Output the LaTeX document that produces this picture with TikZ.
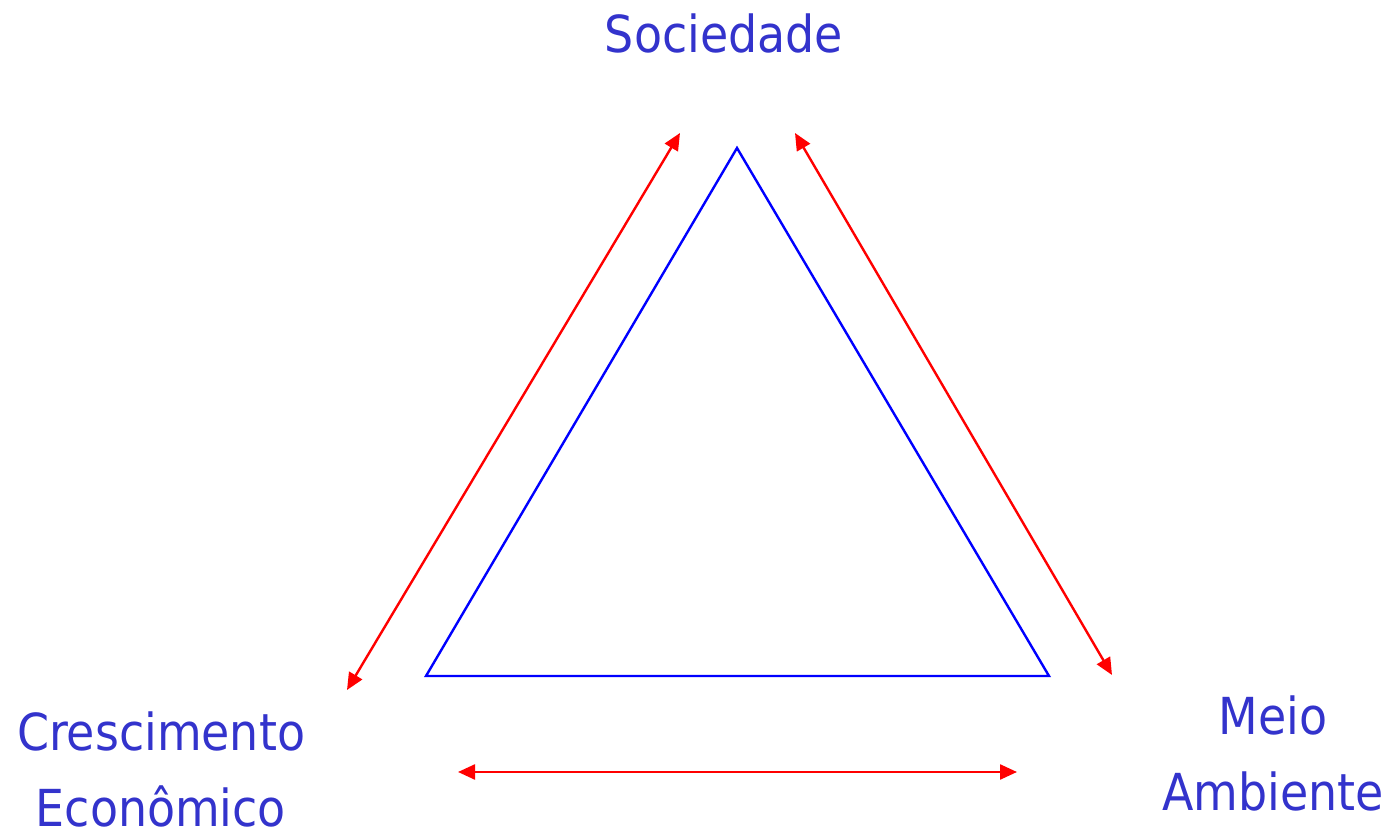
\documentclass[tikz,border=0pt]{standalone}
\usepackage{fontspec}
\setmainfont{DejaVu Sans Condensed}
\usetikzlibrary{arrows.meta}
\definecolor{labelblue}{HTML}{3333CC}
\begin{document}
\begin{tikzpicture}[x=1pt,y=1pt,
 lbl/.style={text=labelblue,align=center,inner sep=0pt,font=\fontsize{51}{76}\selectfont},
 link/.style={draw=red,line width=2.4pt,{Triangle[length=17pt,width=15pt]}-{Triangle[length=17pt,width=15pt]}}]
\useasboundingbox (0,0) rectangle (1392,832);
\node[lbl] (soc) at (724,799) {Sociedade};
\node[lbl] (eco) at (161,63) {Crescimento\\Econômico};
\node[lbl] (amb) at (1273,79) {Meio\\Ambiente};
% triangle
\coordinate (top) at (737,684);\coordinate (bl) at (426,156);\coordinate (br) at (1049,156);
\draw[blue,line width=2.4pt] (top)--(bl)--(br)--cycle;
% arrows
\coordinate (l1) at (680,699);\coordinate (l2) at (347,142);
\coordinate (r1) at (795,699);\coordinate (r2) at (1112,157);
\coordinate (b1) at (458,60);\coordinate (b2) at (1017,60);
\draw[link] (l1)--(l2);\draw[link] (r1)--(r2);\draw[link] (b1)--(b2);
\end{tikzpicture}
\end{document}
